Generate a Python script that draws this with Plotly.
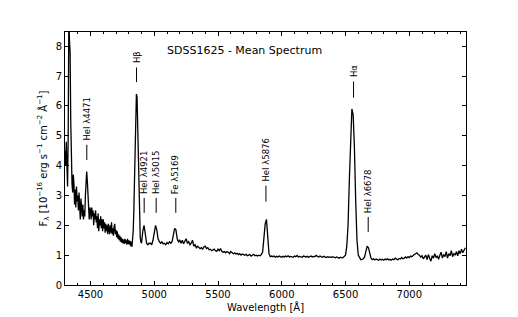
import plotly.graph_objects as go

# Blue part sampled every 5 Angstrom from 4300, the rest every 10 Angstrom from 4900
flux_blue = [  # 4300 - 4895 (5 A steps)
    4.5, 4.0, 4.8, 3.6, 3.3, 5.0, 9.0, 8.2, 7.8, 5.5, 4.0, 3.4, 3.1, 3.7, 3.4, 2.7, 3.2, 2.6, 3.3, 2.8,
    3.0, 2.5, 3.1, 2.4, 2.2, 2.9, 2.6, 2.3, 2.7, 2.2, 2.5, 2.3, 3.0, 3.5, 3.8, 3.5, 2.8, 2.5, 2.2, 2.6,
    2.5, 2.2, 2.6, 2.3, 2.5, 2.0, 2.4, 2.2, 2.5, 2.1, 2.3, 1.9, 2.4, 1.8, 2.2, 2.0, 2.3, 1.9, 2.2, 1.8,
    2.2, 1.9, 2.1, 1.75, 2.05, 1.8, 2.0, 1.7, 2.05, 1.85, 1.7, 2.0, 1.75, 2.1, 1.7, 1.9, 1.65, 1.95, 2.05, 1.7,
    1.85, 1.6, 1.8, 1.55, 1.7, 1.5, 1.65, 1.45, 1.6, 1.42, 1.55, 1.4, 1.52, 1.38, 1.55, 1.4, 1.5, 1.35, 1.55, 1.38,
    1.5, 1.35, 1.48, 1.3, 1.45, 1.28, 1.5, 1.8, 2.5, 3.5, 4.6, 5.7, 6.4, 6.3, 5.4, 4.0, 2.8, 2.0, 1.6, 1.45,
]
flux_green = [  # 4900 - 5490
    1.4, 1.8, 2.0, 1.7, 1.4, 1.35, 1.4, 1.4, 1.35, 1.5,
    1.8, 2.0, 1.85, 1.55, 1.45, 1.4, 1.45, 1.38, 1.4, 1.35,
    1.42, 1.38, 1.45, 1.4, 1.45, 1.7, 1.9, 1.85, 1.55, 1.45,
    1.5, 1.4, 1.5, 1.38, 1.45, 1.55, 1.4, 1.45, 1.35, 1.4,
    1.5, 1.3, 1.35, 1.25, 1.3, 1.25, 1.22, 1.25, 1.2, 1.28,
    1.3, 1.22, 1.25, 1.18, 1.2, 1.15, 1.18, 1.2, 1.15, 1.13,
]
flux_yellow = [  # 5500 - 6090
    1.2, 1.15, 1.22, 1.12, 1.1, 1.12, 1.08, 1.12, 1.1, 1.05,
    1.12, 1.08, 1.05, 1.08, 1.04, 1.06, 1.02, 1.05, 1.0, 1.04,
    1.02, 1.0, 1.03, 0.98, 1.0, 1.02, 0.97, 1.0, 1.03, 0.98,
    1.0, 0.97, 1.0, 0.98, 1.02, 1.1, 1.7, 2.05, 2.2, 1.6,
    1.05, 0.95, 0.97, 0.95, 0.97, 0.93, 0.96, 0.94, 0.97, 0.95,
    0.93, 0.96, 0.94, 0.97, 0.95, 0.98, 0.94, 0.96, 0.95, 0.93,
]
flux_red = [  # 6100 - 6690
    0.97, 0.95, 0.99, 0.94, 0.96, 0.95, 0.93, 0.97, 0.95, 0.94,
    0.96, 0.93, 0.95, 0.97, 0.94, 0.96, 0.95, 0.99, 0.96, 0.94,
    0.97, 0.95, 0.93, 0.96, 0.94, 0.92, 0.95, 0.93, 0.94, 0.92,
    0.95, 0.93, 0.91, 0.94, 0.92, 0.9, 0.93, 0.91, 0.92, 0.95,
    1.0, 1.3, 2.0, 3.5, 5.2, 5.9, 5.7, 4.6, 2.8, 1.5,
    1.0, 0.9, 0.85, 0.86, 0.88, 0.95, 1.2, 1.3, 1.25, 1.05,
]
flux_ir = [  # 6700 - 7440
    0.9, 0.85, 0.88, 0.84, 0.87, 0.85, 0.83, 0.87, 0.84, 0.86,
    0.83, 0.87, 0.85, 0.88, 0.84, 0.86, 0.83, 0.87, 0.85, 0.9,
    0.86, 0.84, 0.89, 0.87, 0.92, 0.88, 0.9, 0.94, 0.9, 0.95,
    0.92, 0.97, 0.95, 1.0, 1.02, 1.05, 1.08, 1.02, 1.0, 0.93,
    0.98, 0.88, 0.95, 1.0, 0.85, 1.02, 0.9, 0.8, 0.98, 0.9,
    1.05, 0.92, 0.98, 0.86, 1.0, 1.1, 0.9, 1.02, 0.95, 1.12,
    0.9, 1.05, 0.98, 1.15, 0.95, 1.05, 1.0, 1.12, 0.98, 1.15,
    1.05, 1.2, 1.08, 1.15, 1.25,
]
flux_rest = flux_green + flux_yellow + flux_red + flux_ir
wave = [4300 + 5 * i for i in range(len(flux_blue))] + \
       [4900 + 10 * i for i in range(len(flux_rest))]
flux = flux_blue + flux_rest

# Line identifications
line_labels = ["HeI λ4471", "Hβ", "HeI λ4921", "HeI λ5015", "Fe λ5169",
               "HeI λ5876", "Hα", "HeI λ6678"]
line_waves = [4471, 4861, 4921, 5015, 5169, 5876, 6563, 6678]
line_bottom = [4.19, 6.80, 2.42, 2.42, 2.42, 2.79, 6.28, 1.78]
line_top = [4.70, 7.29, 2.92, 2.92, 2.92, 3.33, 6.82, 2.28]

fig = go.Figure()
fig.add_trace(go.Scatter(x=wave, y=flux, mode="lines",
                         line=dict(color="black", width=1.3), showlegend=False))

shapes = []
annotations = []
for lab, w, y0, y1 in zip(line_labels, line_waves, line_bottom, line_top):
    shapes.append(dict(type="line", xref="x", yref="y", x0=w, x1=w, y0=y0, y1=y1,
                       line=dict(color="black", width=1)))
    annotations.append(dict(x=w, y=y1, xref="x", yref="y", text=lab,
                            showarrow=False, textangle=-90, yanchor="bottom",
                            xanchor="center", yshift=2,
                            font=dict(size=8.5, color="black")))

annotations.append(dict(x=5705, y=7.85, xref="x", yref="y",
                        text="SDSS1625 - Mean Spectrum", showarrow=False,
                        xanchor="center", yanchor="middle",
                        font=dict(size=11, color="black")))

# The page body has an 8px default margin, so the figure is sized to fit inside it
fig.update_layout(
    width=510, height=309,
    margin=dict(l=57, r=52, t=24, b=32, autoexpand=False),
    paper_bgcolor="white", plot_bgcolor="white",
    font=dict(family="DejaVu Sans", color="black", size=10),
    shapes=shapes, annotations=annotations,
    xaxis=dict(range=[4300, 7445], tickvals=[4500, 5000, 5500, 6000, 6500, 7000],
               ticks="inside", ticklen=4, tickwidth=1, tickcolor="black",
               minor=dict(dtick=100, tick0=4300, ticks="inside", ticklen=2,
                          tickcolor="black", tickwidth=1),
               showline=True, linecolor="black", linewidth=1, mirror="allticks",
               showgrid=False, zeroline=False,
               title=dict(text="Wavelength [Å]", font=dict(size=10), standoff=4),
               tickfont=dict(size=10)),
    yaxis=dict(range=[0, 8.48], dtick=1, tick0=0,
               ticks="inside", ticklen=4, tickwidth=1, tickcolor="black",
               showline=True, linecolor="black", linewidth=1, mirror="allticks",
               showgrid=False, zeroline=False,
               title=dict(text="F<sub>λ</sub> [10<sup>−16</sup> erg s<sup>−1</sup> cm<sup>−2</sup> Å<sup>−1</sup>]",
                          font=dict(size=10), standoff=6),
               tickfont=dict(size=10)),
)

fig.write_html("out.html")
